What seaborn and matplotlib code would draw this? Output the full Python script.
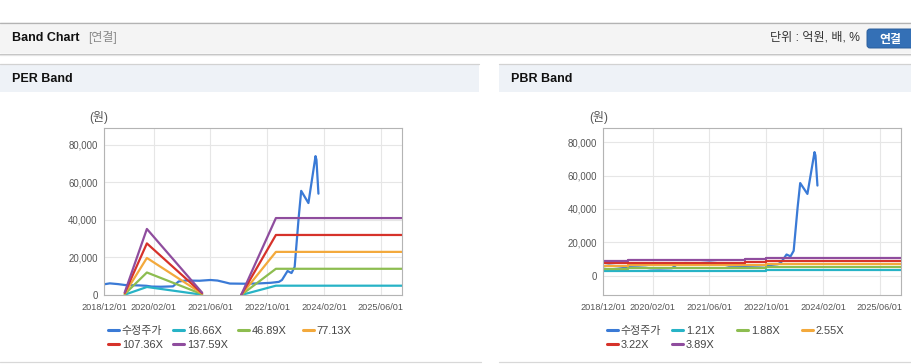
import matplotlib
matplotlib.use('Agg')
import matplotlib.pyplot as plt
import matplotlib.dates as mdates
from matplotlib.patches import Rectangle, FancyBboxPatch
from matplotlib.lines import Line2D
from matplotlib.legend import Legend
from matplotlib.ticker import FuncFormatter
import seaborn as sns
import pandas as pd

sns.set_style('white')
plt.rcParams['font.family'] = ['Liberation Sans', 'Noto Sans CJK KR']

# 수정주가 (adjusted price), same series in both charts
price_dates = ['2018-12-01', '2019-01-20', '2019-04-01', '2019-06-01', '2019-10-01',
               '2019-12-01', '2020-01-15', '2020-04-01', '2020-07-15', '2020-09-01',
               '2020-11-01', '2021-03-01', '2021-06-01', '2021-08-01', '2021-10-01',
               '2021-11-15', '2022-04-01', '2022-08-01', '2022-11-01', '2023-01-10',
               '2023-02-05', '2023-03-25', '2023-04-28', '2023-05-25', '2023-06-28',
               '2023-07-20', '2023-09-20', '2023-11-20', '2023-11-28', '2023-12-15']
price_values = [5700, 6200, 5800, 5300, 5100,
                4900, 4500, 4400, 4600, 7200,
                7700, 7600, 8000, 7700, 6800,
                6100, 6000, 6200, 6500, 7000,
                8000, 12800, 11700, 15000, 41000,
                55500, 49000, 74000, 72000, 54000]

# PER band (two segments, gap where EPS was negative)
per_dates = ['2019-05-28', '2019-12-04', '2021-03-22', '2022-02-20', '2022-12-15', '2025-12-31']
per_segment = [0, 0, 0, 1, 1, 1]
per_labels = ['16.66X', '46.89X', '77.13X', '107.36X', '137.59X']
per_16_66 = [170, 4270, 150, 0, 4960, 4960]
per_46_89 = [480, 12000, 420, 0, 13970, 13970]
per_77_13 = [790, 19750, 700, 0, 22980, 22980]
per_107_36 = [1100, 27500, 960, 0, 31990, 31990]
per_137_59 = [1400, 35200, 1240, 0, 41000, 41000]

# PBR band (stepwise)
pbr_dates = ['2018-12-01', '2019-07-01', '2022-04-01', '2022-10-01', '2025-12-31']
pbr_labels = ['1.21X', '1.88X', '2.55X', '3.22X', '3.89X']
pbr_1_21 = [2900, 3100, 3200, 3600, 3600]
pbr_1_88 = [4400, 4700, 4900, 5300, 5300]
pbr_2_55 = [6000, 6400, 6700, 7200, 7200]
pbr_3_22 = [7500, 8000, 8500, 9100, 9100]
pbr_3_89 = [9100, 9600, 10200, 10900, 10900]

x_ticks = ['2018-12-01', '2020-02-01', '2021-06-01', '2022-10-01', '2024-02-01', '2025-06-01']
y_ticks = [0, 20000, 40000, 60000, 80000]

price_color = '#3a7ad6'
band_colors = ['#27b3c6', '#8dbd50', '#f3a93c', '#d6322a', '#8f4d9e']

W, H = 912, 364
fig = plt.figure(figsize=(W / 100, H / 100), dpi=100)
fig.patch.set_facecolor('white')

# page frame drawn in pixel coordinates
bg = fig.add_axes([0, 0, 1, 1], zorder=0)
bg.set_xlim(0, W)
bg.set_ylim(H, 0)
bg.axis('off')

bg.add_patch(Rectangle((0, 22), W, 31, fc='#f4f4f4', ec='none'))
bg.plot([0, W], [22.5, 22.5], color='#b3b3b3', lw=0.9)
bg.plot([0, W], [53.5, 53.5], color='#c2c2c2', lw=0.9)
bg.plot([0, W], [54.5, 54.5], color='#e4e4e4', lw=0.9)
bg.text(12, 38, 'Band Chart', fontsize=9, weight='bold', color='#111111', va='center')
bg.text(88, 38, '[연결]', fontsize=8.6, color='#8a8a8a', va='center')
bg.text(860, 38, '단위 : 억원, 배, %', fontsize=8.7, color='#333333', va='center', ha='right')
bg.add_patch(FancyBboxPatch((867, 29), 50, 19, boxstyle='round,pad=0,rounding_size=3',
                            fc='#3470b6', ec='#2b5e9c', lw=0.7))
bg.text(890, 40, '연결', fontsize=8.6, weight='bold', color='white', va='center', ha='center')

for x0, x1, title in [(0, 479, 'PER Band'), (499, W, 'PBR Band')]:
    bg.add_patch(Rectangle((x0, 64), x1 - x0, 28, fc='#eef2f7', ec='none'))
    bg.plot([x0, x1], [63.5, 63.5], color='#d2d2d2', lw=0.9)
    bg.plot([x0, x1 + 2], [361.5, 361.5], color='#d8d8d8', lw=0.9)
    bg.text(x0 + 12, 79, title, fontsize=9, weight='bold', color='#111111', va='center')


def style_axis(ax, ylim):
    ax.set_xlim(pd.Timestamp('2018-12-01'), pd.Timestamp('2025-12-01'))
    ax.set_ylim(*ylim)
    ax.set_xticks(pd.to_datetime(x_ticks))
    ax.xaxis.set_major_formatter(mdates.DateFormatter('%Y/%m/%d'))
    ax.set_yticks(y_ticks)
    ax.yaxis.set_major_formatter(FuncFormatter(lambda v, p: f'{v:,.0f}'))
    ax.grid(True, color='#e6e6e6', lw=0.8)
    ax.set_axisbelow(True)
    for s in ax.spines.values():
        s.set_color('#b4b4b4')
        s.set_linewidth(0.8)
    ax.tick_params(axis='x', length=3, width=0.7, color='#b4b4b4', labelsize=6.6,
                   labelcolor='#555555', pad=2.5)
    ax.tick_params(axis='y', length=3, width=0.7, color='#b4b4b4', labelsize=6.9,
                   labelcolor='#555555', pad=1.5)
    ax.set_xlabel('')
    ax.set_ylabel('')


def add_legend(x_left, labels):
    # one small legend per column so the columns sit on a fixed 65px grid
    handles = [Line2D([], [], color=c, lw=2.2) for c in [price_color] + band_colors]
    texts = ['수정주가'] + labels
    for col in range(4):
        idx = [i for i in (col, col + 4) if i < len(texts)]
        leg = Legend(bg, [handles[i] for i in idx], [texts[i] for i in idx],
                     loc='upper left', bbox_to_anchor=(x_left + col * 65, 326),
                     bbox_transform=bg.transData, frameon=False, fontsize=7.9,
                     handlelength=1.0, handletextpad=0.25, borderpad=0,
                     borderaxespad=0, labelspacing=0.32)
        for t in leg.get_texts():
            t.set_color('#444444')
        bg.add_artist(leg)


price_df = pd.DataFrame({'date': pd.to_datetime(price_dates), 'value': price_values})

# PER chart
ax1 = fig.add_axes([104 / W, 1 - 295 / H, 298 / W, 167 / H], zorder=2)
sns.lineplot(data=price_df, x='date', y='value', ax=ax1, color=price_color, lw=1.6)
per_series = [per_16_66, per_46_89, per_77_13, per_107_36, per_137_59]
for vals, c in zip(per_series, band_colors):
    df = pd.DataFrame({'date': pd.to_datetime(per_dates), 'value': vals, 'seg': per_segment})
    for _, g in df.groupby('seg'):
        sns.lineplot(data=g, x='date', y='value', ax=ax1, color=c, lw=1.6)
style_axis(ax1, (0, 89000))
bg.text(99, 118, '(원)', fontsize=8.6, color='#555555', ha='center', va='center')
add_legend(108, per_labels)

# PBR chart
ax2 = fig.add_axes([603 / W, 1 - 295 / H, 298 / W, 167 / H], zorder=2)
sns.lineplot(data=price_df, x='date', y='value', ax=ax2, color=price_color, lw=1.6)
pbr_series = [pbr_1_21, pbr_1_88, pbr_2_55, pbr_3_22, pbr_3_89]
for vals, c in zip(pbr_series, band_colors):
    df = pd.DataFrame({'date': pd.to_datetime(pbr_dates), 'value': vals})
    sns.lineplot(data=df, x='date', y='value', ax=ax2, color=c, lw=1.6, drawstyle='steps-post')
style_axis(ax2, (-11400, 88400))
bg.text(599, 118, '(원)', fontsize=8.6, color='#555555', ha='center', va='center')
add_legend(607, pbr_labels)

fig.savefig('out.png', dpi=100)
